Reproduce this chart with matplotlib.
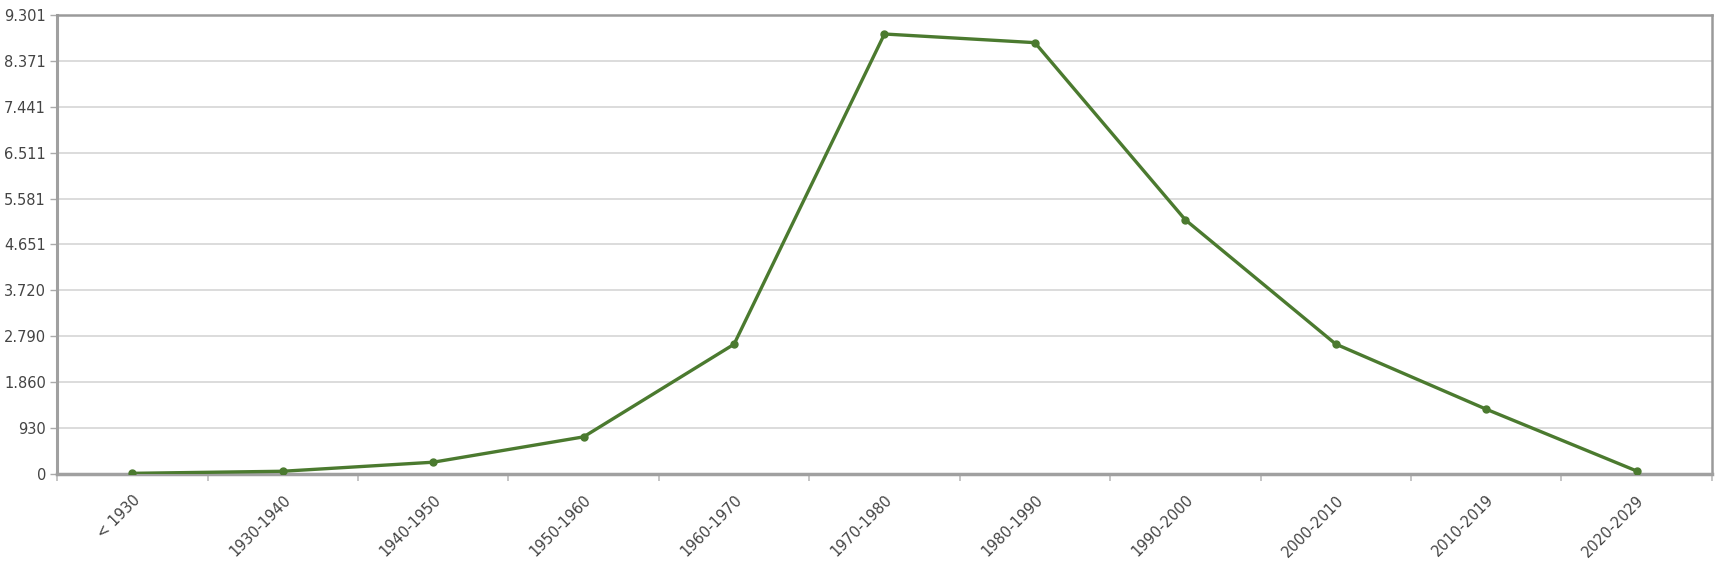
import matplotlib.pyplot as plt
from matplotlib.ticker import FixedLocator, FuncFormatter
import numpy as np

categories = ["< 1930", "1930-1940", "1940-1950", "1950-1960", "1960-1970",
              "1970-1980", "1980-1990", "1990-2000", "2000-2010", "2010-2019",
              "2020-2029"]
values = [20, 62, 245, 758, 2632, 8910, 8735, 5150, 2635, 1318, 68]
y_max = 9301

plt.rcParams['font.family'] = ['Liberation Sans Narrow', 'DejaVu Sans']

fig = plt.figure(figsize=(17.30, 5.69), dpi=100)
ax = fig.add_axes([0.033, 0.1664, 0.9565, 0.8078])

x = np.arange(len(categories))
ax.plot(x, values, color="#4b7a2f", linewidth=2.4, marker="o", markersize=5,
        zorder=3, solid_joinstyle="round")

ax.set_xlim(-0.5, len(categories) - 0.5)
ax.set_ylim(0, y_max)

yticks = np.linspace(0, y_max, 11)
ax.yaxis.set_major_locator(FixedLocator(yticks))
ax.yaxis.set_major_formatter(FuncFormatter(lambda v, p: f"{int(v + 0.5):,}".replace(",", ".")))
ax.grid(axis="y", color="#d5d5d5", linewidth=1.2)
ax.set_axisbelow(True)

ax.set_xticks(x)
ax.set_xticklabels(categories, rotation=45, ha="right", va="top", rotation_mode="anchor")
ax.set_xticks(np.arange(-0.5, len(categories), 1.0), minor=True)
ax.tick_params(axis="x", which="major", length=0, pad=13, labelsize=10.5, labelcolor="#444444")
ax.tick_params(axis="x", which="minor", length=5, width=1.2, color="#bbbbbb")
ax.tick_params(axis="y", length=5, width=1, color="#aaaaaa", labelsize=10.5,
               labelcolor="#444444", pad=3)

for side in ["top", "right"]:
    ax.spines[side].set_color("#9a9a9a")
    ax.spines[side].set_linewidth(1.8)
ax.spines["left"].set_color("#a0a0a0")
ax.spines["left"].set_linewidth(2.2)
ax.spines["bottom"].set_color("#a0a0a0")
ax.spines["bottom"].set_linewidth(2.5)

fig.savefig("out.png", dpi=100)
